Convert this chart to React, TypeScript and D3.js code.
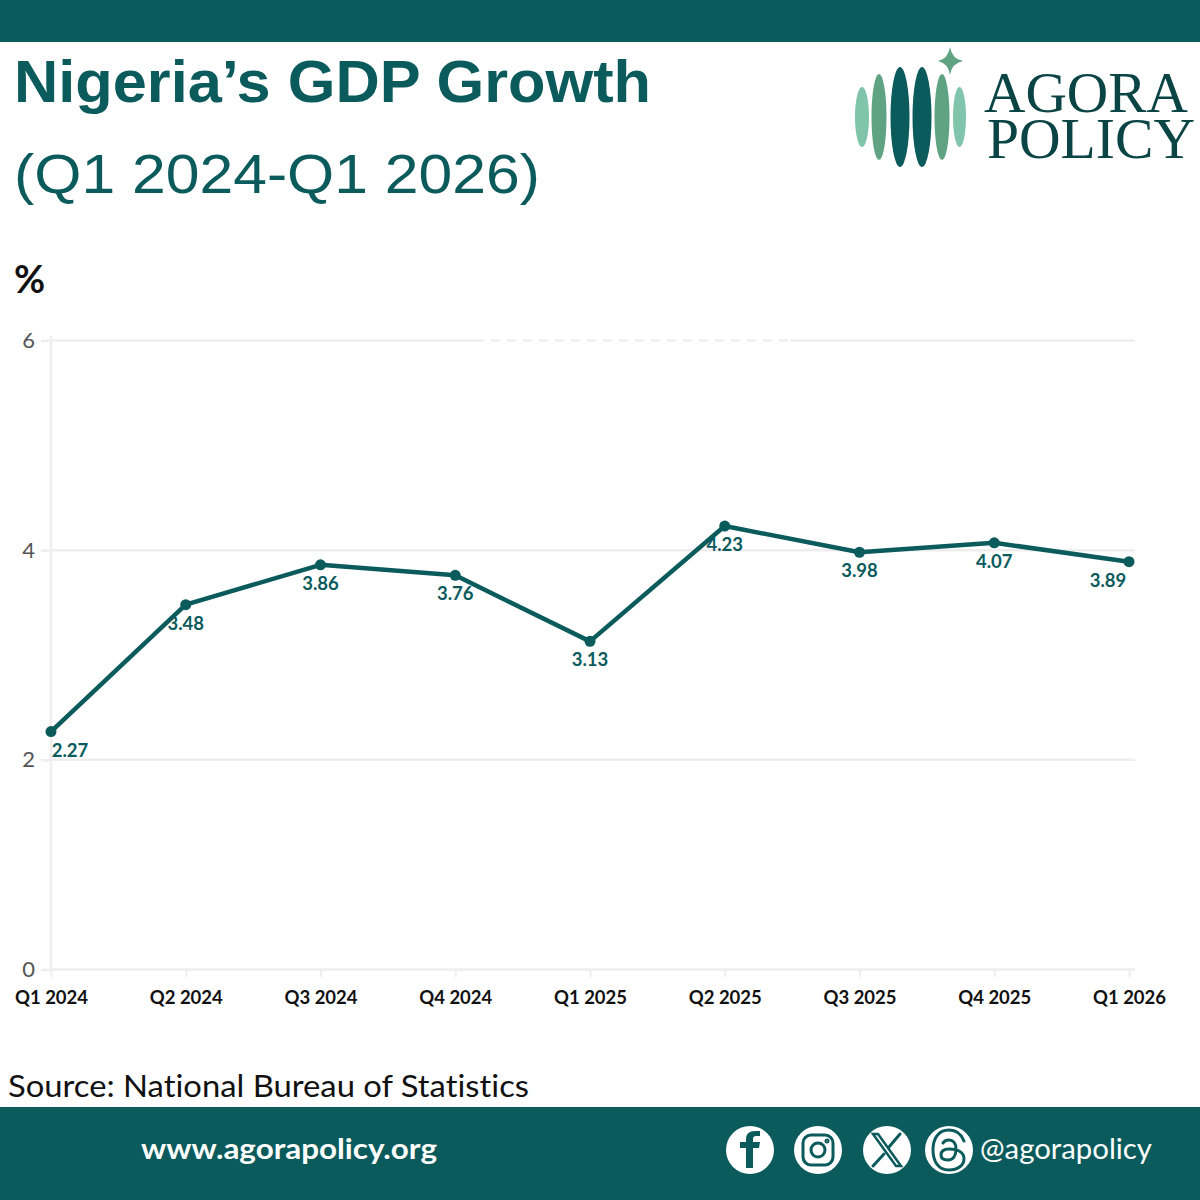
import { useEffect, useRef } from "react";
import * as d3 from "d3";

const QUARTERS = ["Q1 2024", "Q2 2024", "Q3 2024", "Q4 2024", "Q1 2025", "Q2 2025", "Q3 2025", "Q4 2025", "Q1 2026"];
const GROWTH = [2.27, 3.48, 3.86, 3.76, 3.13, 4.23, 3.98, 4.07, 3.89];
const Y_TICKS = [0, 2, 4, 6];

const TEAL = "#0b5b5d";
const LATO = "Lato, sans-serif";
const ARIAL = "'Liberation Sans', sans-serif";
const GRID = "#eeeeef";

// Logo bars: center x, half height, half width, color
const LOGO_BARS = [
  [862, 30, 7, "#7fc4ab"],
  [879, 43, 7.5, "#5fa382"],
  [900, 50, 9.5, "#0b5b5d"],
  [922, 50, 9.5, "#0b5b5d"],
  [942, 43, 7.5, "#5fa382"],
  [959.5, 30, 6.5, "#7fc4ab"],
] as const;

const SOCIAL_X = [750, 818, 887, 949];

function SocialIcon({ kind, cx }: { kind: number; cx: number }) {
  const stroke = { fill: "none", stroke: TEAL, strokeLinecap: "round" as const };
  return (
    <g transform={`translate(${cx},1150)`}>
      <circle r={24} fill="#fff" />
      {kind === 0 && (
        <path d="M3 18V-2H9L10-8H3V-11C3-13 4-14 6-14H10V-19H5C-1-19-4-16-4-11V-8H-10V-2H-4V18Z" fill={TEAL} />
      )}
      {kind === 1 && (
        <g {...stroke} strokeWidth={3}>
          <rect x={-15} y={-15} width={30} height={30} rx={8} />
          <circle r={7} />
          <circle cx={9} cy={-9} r={1} />
        </g>
      )}
      {kind === 2 && (
        <g {...stroke}>
          <path d="M-14-16L9 16H14L-9-16Z" strokeWidth={2.5} />
          <path d="M13-16L2-3M-3 4L-14 16" strokeWidth={3} />
        </g>
      )}
      {kind === 3 && (
        <g {...stroke} strokeWidth={3}>
          <path d="M15-9C12-17 6-20 0-20C-11-20-16-11-16 0C-16 11-11 20 0 20C9 20 15 15 15 9C15 2 8-1 0-1C-6-1-8 2-8 5C-8 9-4 10-1 10C4 10 7 6 7-1C7-7 4-10 0-10C-3-10-5-9-6-7" />
        </g>
      )}
    </g>
  );
}

export default function App() {
  const chartRef = useRef<SVGGElement>(null);

  useEffect(() => {
    document.body.style.margin = "0";
    if (!chartRef.current) return;

    const x = d3.scalePoint<string>().domain(QUARTERS).range([51, 1129]);
    const y = d3.scaleLinear().domain([0, 6]).range([969.5, 340.5]);

    const g = d3.select(chartRef.current);
    g.selectAll("*").remove();

    // Grid lines and y labels
    const yAxis = g
      .append("g")
      .attr("transform", "translate(51,0)")
      .call(d3.axisLeft(y).tickValues(Y_TICKS).tickSize(10).tickPadding(6).tickFormat((d) => String(d)));
    yAxis.select(".domain").remove();
    yAxis.selectAll("line").attr("stroke", GRID).attr("stroke-width", 2.5);
    yAxis
      .selectAll("text")
      .attr("fill", "#555")
      .style("font-family", LATO)
      .style("font-size", "22px");

    g.append("g")
      .selectAll("line")
      .data(Y_TICKS)
      .join("line")
      .attr("x1", 51)
      .attr("x2", 1135)
      .attr("y1", (d) => y(d))
      .attr("y2", (d) => y(d))
      .attr("stroke", GRID)
      .attr("stroke-width", 2.5);

    // White smudge that breaks up the top grid line
    g.append("line")
      .attr("x1", 484)
      .attr("x2", 790)
      .attr("y1", y(6))
      .attr("y2", y(6))
      .attr("stroke", "#fff")
      .attr("stroke-width", 3.5)
      .attr("stroke-dasharray", "7 9");

    // Vertical axis line and x labels
    g.append("line")
      .attr("x1", 51)
      .attr("x2", 51)
      .attr("y1", 336)
      .attr("y2", 969)
      .attr("stroke", GRID)
      .attr("stroke-width", 2.5);

    const xAxis = g
      .append("g")
      .attr("transform", "translate(0,969)")
      .call(d3.axisBottom(x).tickSize(8).tickPadding(14));
    xAxis.select(".domain").remove();
    xAxis.selectAll("line").attr("stroke", GRID).attr("stroke-width", 2);
    xAxis
      .selectAll("text")
      .attr("fill", "#111")
      .style("font-family", LATO)
      .style("font-size", "18.5px")
      .style("font-weight", 700);

    const rows = QUARTERS.map((q, i) => ({ q, v: GROWTH[i], i }));
    const last = rows.length - 1;

    const line = d3
      .line<{ q: string; v: number }>()
      .x((d) => x(d.q) || 0)
      .y((d) => y(d.v));

    g.append("path")
      .datum(rows)
      .attr("fill", "none")
      .attr("stroke", TEAL)
      .attr("stroke-width", 4.5)
      .attr("stroke-linejoin", "round")
      .attr("d", line);

    g.append("g")
      .selectAll("circle")
      .data(rows)
      .join("circle")
      .attr("cx", (d) => x(d.q) || 0)
      .attr("cy", (d) => y(d.v))
      .attr("r", 5.5)
      .attr("fill", TEAL);

    // Labels sit under the points; the two end ones are pushed inward
    g.append("g")
      .selectAll("text")
      .data(rows)
      .join("text")
      .attr("x", (d) => (x(d.q) || 0) + (d.i === 0 ? 19 : d.i === last ? -21 : 0))
      .attr("y", (d) => y(d.v) + 25)
      .attr("text-anchor", "middle")
      .attr("fill", TEAL)
      .style("font-family", LATO)
      .style("font-size", "18.5px")
      .style("font-weight", 700)
      .text((d) => d.v.toFixed(2));
  }, []);

  return (
    <svg width={1200} height={1200} style={{ position: "absolute", left: 0, top: 0, display: "block", background: "#fff", fontVariantLigatures: "none" }}>
      <rect x={0} y={0} width={1200} height={42} fill={TEAL} />
      <text x={14} y={102} fontFamily={ARIAL} fontSize={59} fontWeight={700} fill={TEAL} textLength={637} lengthAdjust="spacingAndGlyphs">
        Nigeria’s GDP Growth
      </text>
      <text x={14} y={193} fontFamily={ARIAL} fontSize={56} fill={TEAL} textLength={526} lengthAdjust="spacingAndGlyphs">
        (Q1 2024-Q1 2026)
      </text>

      {/* Logo */}
      {LOGO_BARS.map(([cx, ry, rx, color]) => (
        <ellipse key={cx} cx={cx} cy={117} rx={rx} ry={ry} fill={color} />
      ))}
      <path d="M950 47Q952 59 963 61Q952 63 950 75Q948 63 938 61Q948 59 950 47Z" fill="#5fa382" />
      <text x={984} y={112} fontFamily="'Liberation Serif', serif" fontSize={58} fill="#0b4444" textLength={204} lengthAdjust="spacingAndGlyphs">
        AGORA
      </text>
      <text x={987} y={158} fontFamily="'Liberation Serif', serif" fontSize={58} fill="#0b4444" textLength={208} lengthAdjust="spacingAndGlyphs">
        POLICY
      </text>

      <text x={14} y={293} fontFamily={LATO} fontSize={38} fontWeight={700} fill="#111">
        %
      </text>

      <g ref={chartRef} />

      <text x={8} y={1097} fontFamily={LATO} fontSize={30} fill="#111" textLength={521} lengthAdjust="spacingAndGlyphs">
        Source: National Bureau of Statistics
      </text>

      <rect x={0} y={1107} width={1200} height={93} fill={TEAL} />
      <text x={141} y={1159} fontFamily={LATO} fontSize={29} fontWeight={700} fill="#fff" textLength={296} lengthAdjust="spacingAndGlyphs">
        www.agorapolicy.org
      </text>
      {SOCIAL_X.map((cx, i) => (
        <SocialIcon key={cx} kind={i} cx={cx} />
      ))}
      <text x={980} y={1159} fontFamily={LATO} fontSize={28} fill="#fff" textLength={172} lengthAdjust="spacingAndGlyphs">
        @agorapolicy
      </text>
    </svg>
  );
}
